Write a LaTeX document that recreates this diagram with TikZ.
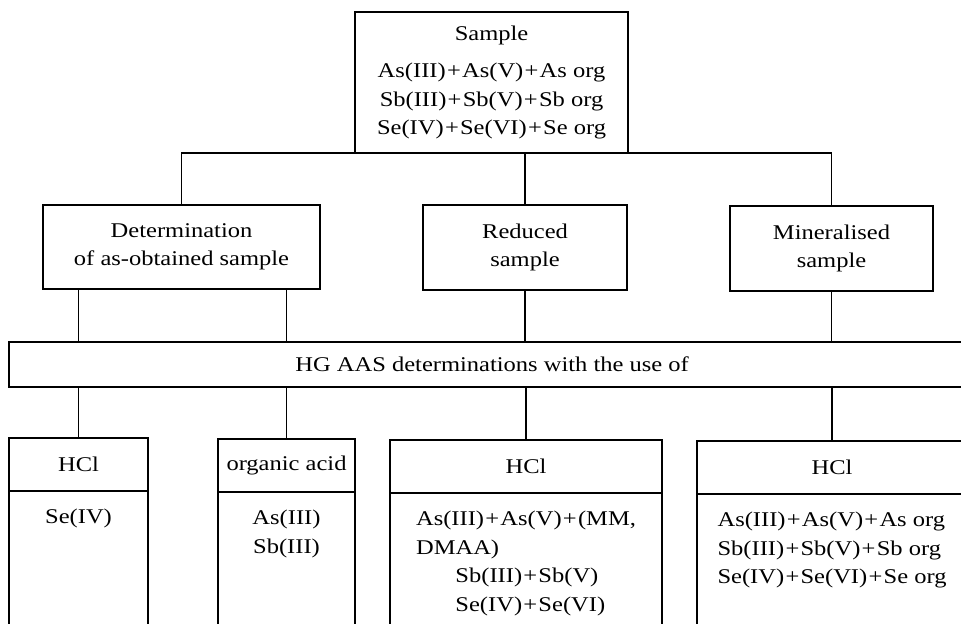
\documentclass[tikz,border=0pt]{standalone}
\usepackage{fontspec}
\setmainfont{Liberation Serif}[FakeStretch=1.17]
\usetikzlibrary{positioning}

\newcommand{\pl}{\kern0.06em+\kern0.06em}

\tikzset{
    box/.style={draw, line width=0.9pt, anchor=north west, inner sep=0pt, outer sep=0pt, align=center},
    spec/.style={inner sep=0pt},
    link/.style={line width=0.9pt},
}

\begin{document}
\begin{tikzpicture}[x=0.025cm, y=-0.025cm, font=\fontsize{14.9}{20.3}\selectfont]
    \clip (0,0) rectangle (961,624);

    % sample and the three ways of treating it
    \node[box, minimum width=6.825cm, minimum height=3.525cm] (sample) at (355,12)
        {Sample\\[6pt]
         As(III)\pl As(V)\pl As org\\
         Sb(III)\pl Sb(V)\pl Sb org\\
         Se(IV)\pl Se(VI)\pl Se org};

    \node[box, minimum width=6.925cm, minimum height=2.1cm] (asobt) at (43,205)
        {Determination\\of as-obtained sample};
    \node[box, minimum width=5.1cm, minimum height=2.125cm] (reduced) at (423,205)
        {Reduced\\sample};
    \node[box, minimum width=5.075cm, minimum height=2.125cm] (miner) at (730,206)
        {Mineralised\\sample};

    \node[box, minimum width=24.15cm, minimum height=1.125cm] (hg) at (9,342)
        {HG AAS determinations with the use of};

    % reagents
    \node[box, minimum width=3.475cm, minimum height=1.325cm] (acid1) at (9,438) {HCl};
    \node[box, minimum width=3.425cm, minimum height=1.325cm] (acid2) at (218,439) {organic acid};
    \node[box, minimum width=6.8cm, minimum height=1.325cm] (acid3) at (390,440) {HCl};
    \node[box, minimum width=6.75cm, minimum height=1.325cm] (acid4) at (697,441) {HCl};

    \node[box, minimum width=3.475cm, minimum height=4.5cm] (body1) at (acid1.south west) {};
    \node[box, minimum width=3.425cm, minimum height=4.5cm] (body2) at (acid2.south west) {};
    \node[box, minimum width=6.8cm, minimum height=4.5cm] (body3) at (acid3.south west) {};
    \node[box, minimum width=6.75cm, minimum height=4.5cm] (body4) at (acid4.south west) {};

    % species found
    \node[spec, below=0.45cm of body1.north] (spec1) {Se(IV)};
    \node[spec, below=0.45cm of body2.north, align=center] (spec2) {As(III)\\Sb(III)};
    \node[spec, below=0.45cm of body3.north, align=left] (spec3)
        {As(III)\pl As(V)\pl(MM,\\
         DMAA)\\
         \hspace*{28pt}Sb(III)\pl Sb(V)\\
         \hspace*{28pt}Se(IV)\pl Se(VI)};
    \node[spec, below=0.45cm of body4.north, align=left] (spec4)
        {As(III)\pl As(V)\pl As org\\
         Sb(III)\pl Sb(V)\pl Sb org\\
         Se(IV)\pl Se(VI)\pl Se org};

    % connectors
    \draw[link] (asobt.north) |- (sample.south) -| (miner.north);
    \draw[link] (reduced.north) -- (reduced.north |- sample.south);

    \draw[link] (acid1.north |- asobt.south) -- (acid1.north |- hg.north);
    \draw[link] (acid2.north |- asobt.south) -- (acid2.north |- hg.north);
    \draw[link] (reduced.south) -- (reduced.south |- hg.north);
    \draw[link] (miner.south) -- (miner.south |- hg.north);

    \foreach \i in {1,...,4}
        \draw[link] (acid\i.north |- hg.south) -- (acid\i.north);
\end{tikzpicture}
\end{document}
